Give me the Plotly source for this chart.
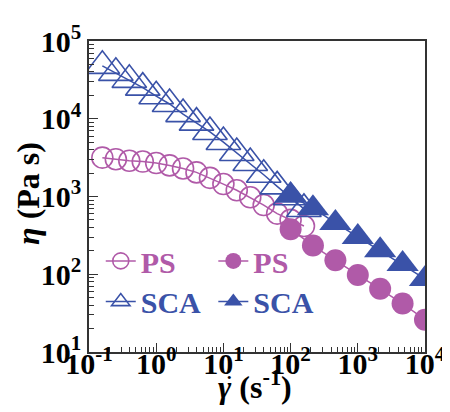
import plotly.graph_objects as go

# shear rates (s^-1)
rate_open = [0.158, 0.251, 0.398, 0.631, 1.0, 1.58, 2.51, 3.98, 6.31, 10, 15.8, 25.1, 39.8, 63.1, 100, 158]
rate_filled = [100, 215, 464, 1000, 2150, 4640, 10000]

# viscosities (Pa s)
eta_ps_open = [3162, 3020, 2884, 2818, 2692, 2512, 2291, 2042, 1738, 1445, 1202, 977, 776, 603, 501, 417]
eta_sca_open = [47863, 38905, 31623, 25119, 19498, 15488, 11482, 8913, 6761, 5012, 3631, 2692, 1905, 1349, 977, 692]
eta_ps_filled = [380, 234, 151, 98, 65, 42, 26]
eta_sca_filled = [1023, 708, 457, 302, 204, 135, 87]

# tick labels
x_tickvals = [0.1, 1, 10, 100, 1000, 10000]
x_ticktext = ["10<sup>-1</sup>", "10<sup>0</sup>", "10<sup>1</sup>", "10<sup>2</sup>", "10<sup>3</sup>", "10<sup>4</sup>"]
y_tickvals = [10, 100, 1000, 10000, 100000]
y_ticktext = ["10<sup>1</sup>", "10<sup>2</sup>", "10<sup>3</sup>", "10<sup>4</sup>", "10<sup>5</sup>"]

PINK = "#b05aa8"
BLUE = "#3a52a8"
FONT = "Liberation Serif, Times New Roman, serif"

fig = go.Figure()

fig.add_trace(go.Scatter(x=rate_open, y=eta_ps_open, name="PS", mode="lines+markers",
                         line=dict(color=PINK, width=1.5),
                         marker=dict(symbol="circle-open", size=21, color=PINK, line=dict(width=1.6)),
                         legend="legend"))
fig.add_trace(go.Scatter(x=rate_open, y=eta_sca_open, name="SCA", mode="lines+markers",
                         line=dict(color=BLUE, width=1.5),
                         marker=dict(symbol="triangle-up-open", size=30, color=BLUE, line=dict(width=1.6)),
                         legend="legend3"))
fig.add_trace(go.Scatter(x=rate_filled, y=eta_ps_filled, name="PS", mode="lines+markers",
                         line=dict(color=PINK, width=1.5),
                         marker=dict(symbol="circle", size=22, color=PINK),
                         legend="legend2"))
fig.add_trace(go.Scatter(x=rate_filled, y=eta_sca_filled, name="SCA", mode="lines+markers",
                         line=dict(color=BLUE, width=1.5),
                         marker=dict(symbol="triangle-up", size=28, color=BLUE),
                         legend="legend4"))

def leg(x, y, color):
    return dict(x=x, y=y, xanchor="left", yanchor="middle", bgcolor="rgba(0,0,0,0)",
                font=dict(family=FONT, size=30, color=color, weight="bold"),
                itemwidth=30, tracegroupgap=0)

TICK_FONT = dict(family=FONT, size=30, color="black", weight="bold")
axis_common = dict(type="log", showgrid=False, zeroline=False, showline=True, linecolor="#333333",
                   linewidth=1.5, mirror=True, ticks="inside", ticklen=9, tickwidth=1.2, tickcolor="#333333",
                   tickfont=TICK_FONT,
                   minor=dict(ticks="inside", ticklen=5, tickwidth=1, tickcolor="#333333", dtick="D1", showgrid=False))

TITLE_FONT = dict(family=FONT, size=32, color="black", weight="bold")

fig.update_layout(
    width=450, height=412,
    margin=dict(l=81, r=22, t=28, b=68),
    paper_bgcolor="white", plot_bgcolor="white",
    showlegend=True,
    legend=leg(0.035, 0.293, PINK),
    legend2=leg(0.37, 0.293, PINK),
    legend3=leg(0.035, 0.162, BLUE),
    legend4=leg(0.37, 0.162, BLUE),
    xaxis=dict(axis_common, range=[-1, 4], tickvals=x_tickvals, ticktext=x_ticktext, ticklabelstandoff=-16),
    yaxis=dict(axis_common, range=[1, 5], tickvals=y_tickvals, ticktext=y_ticktext, ticklabelstandoff=0),
    annotations=[
        dict(text="<i>γ</i> (s<sup>-1</sup>)", xref="paper", yref="paper", x=0.493, y=-0.177,
             xanchor="center", yanchor="bottom", showarrow=False, font=TITLE_FONT),
        dict(text="•", xref="paper", yref="paper", x=0.4179, y=-0.082,
             xanchor="center", yanchor="middle", showarrow=False,
             font=dict(family=FONT, size=13, color="black")),
        dict(text="<i>η</i> (Pa s)", xref="paper", yref="paper", x=-0.18, y=0.51,
             xanchor="center", yanchor="middle", showarrow=False, textangle=-90, font=TITLE_FONT),
    ],
)

fig.write_html("out.html")
